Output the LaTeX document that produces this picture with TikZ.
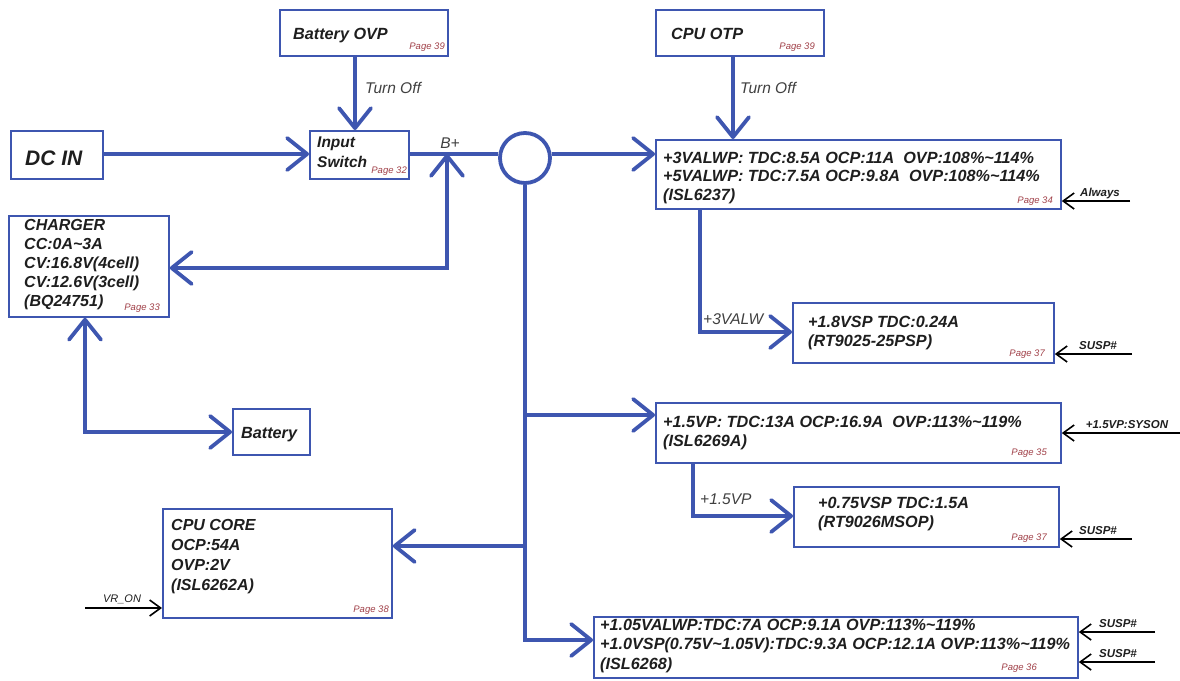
\documentclass[tikz,border=0pt]{standalone}
\usepackage{fontspec}
\setmainfont{Liberation Sans}
\usetikzlibrary{arrows.meta,calc}
\definecolor{lblue}{RGB}{62,86,176}
\definecolor{pgred}{RGB}{160,64,72}
\definecolor{txt}{RGB}{30,30,30}
\tikzset{
 box/.style={draw=lblue, line width=1.8pt, rectangle, inner sep=0pt, anchor=north west},
 main/.style={font=\fontsize{16.2}{18.5}\selectfont\bfseries\itshape, text=txt, align=left, anchor=north west, inner sep=0pt},
 pg/.style={font=\fontsize{9.5}{10}\selectfont\itshape, text=pgred, anchor=base east, inner sep=0pt},
 wire/.style={draw=lblue, line width=3.8pt},
 arr/.style={wire, -{Straight Barb[length=20pt,width=32pt,round]}},
 darr/.style={wire, {Straight Barb[length=20pt,width=32pt,round]}-{Straight Barb[length=20pt,width=32pt,round]}},
 sig/.style={draw=black, line width=1.6pt, -{Straight Barb[length=11pt,width=16pt]}},
 siglbl/.style={font=\fontsize{11.5}{12}\selectfont\bfseries\itshape, text=txt, anchor=base, inner sep=0pt},
 wlbl/.style={font=\fontsize{15.5}{16}\selectfont\itshape, text=txt!85, anchor=base west, inner sep=0pt}
}
\begin{document}
\begin{tikzpicture}[x=1pt,y=-1pt]
\useasboundingbox (0,0) rectangle (1180,680);
% boxes
\node[box, minimum width=168pt, minimum height=46pt] (bovp) at (279,9) {};
\node[box, minimum width=168pt, minimum height=46pt] (cotp) at (655,9) {};
\node[box, minimum width=92pt, minimum height=48pt] (dcin) at (10,130) {};
\node[box, minimum width=99pt, minimum height=48pt] (insw) at (309,130) {};
\node[box, minimum width=160pt, minimum height=101pt] (chg) at (8,215) {};
\node[box, minimum width=77pt, minimum height=46pt] (bat) at (232,408) {};
\node[box, minimum width=229pt, minimum height=109pt] (cpu) at (162,508) {};
\node[box, minimum width=405pt, minimum height=69pt] (v3) at (655,139) {};
\node[box, minimum width=261pt, minimum height=60pt] (v18) at (792,302) {};
\node[box, minimum width=405pt, minimum height=60pt] (v15) at (655,402) {};
\node[box, minimum width=265pt, minimum height=60pt] (v075) at (793,486) {};
\node[box, minimum width=484pt, minimum height=61pt] (v105) at (593,616) {};
\node[draw=lblue, line width=3.8pt, circle, minimum size=50pt, inner sep=0pt] (cir) at (525,158) {};
% texts
\node[main, anchor=base west] (tbovp) at (293,39) {Battery OVP};
\node[pg] (pbovp) at (445,49) {Page 39};
\node[main, anchor=base west] (tcotp) at (671,39) {CPU OTP};
\node[pg] (pcotp) at (815,49) {Page 39};
\node[main, font=\fontsize{21}{24}\selectfont\bfseries\itshape, anchor=base west] (tdcin) at (25,165) {DC IN};
\node[main, font=\fontsize{15.5}{20}\selectfont\bfseries\itshape] (tinsw) at (317,136.5) {Input\\Switch};
\node[pg] (pinsw) at (407,173) {Page 32};
\node[main, font=\fontsize{16}{18.8}\selectfont\bfseries\itshape] (tchg) at (24,219.5) {CHARGER\\CC:0A\textasciitilde 3A\\CV:16.8V(4cell)\\CV:12.6V(3cell)\\(BQ24751)};
\node[pg] (pchg) at (160,310) {Page 33};
\node[main, anchor=base west] (tbat) at (241,438) {Battery};
\node[main, font=\fontsize{16}{20}\selectfont\bfseries\itshape] (tcpu) at (171,519.5) {CPU CORE\\OCP:54A\\OVP:2V\\(ISL6262A)};
\node[pg] (pcpu) at (389,612) {Page 38};
\node[main] (tv3) at (663,151.5) {+3VALWP: TDC:8.5A OCP:11A\ \ OVP:108\%\textasciitilde 114\%\\+5VALWP: TDC:7.5A OCP:9.8A\ \ OVP:108\%\textasciitilde 114\%\\(ISL6237)};
\node[pg] (pv3) at (1053,203) {Page 34};
\node[main] (tv18) at (808,316) {+1.8VSP TDC:0.24A\\(RT9025-25PSP)};
\node[pg] (pv18) at (1045,356) {Page 37};
\node[main, font=\fontsize{16.2}{19}\selectfont\bfseries\itshape] (tv15) at (663,415.5) {+1.5VP: TDC:13A OCP:16.9A\ \ OVP:113\%\textasciitilde 119\%\\(ISL6269A)};
\node[pg] (pv15) at (1047,455) {Page 35};
\node[main, font=\fontsize{16.2}{19}\selectfont\bfseries\itshape] (tv075) at (818,496.5) {+0.75VSP TDC:1.5A\\(RT9026MSOP)};
\node[pg] (pv075) at (1047,540) {Page 37};
\node[main, font=\fontsize{16.2}{19.5}\selectfont\bfseries\itshape] (tv105) at (600,618.5) {+1.05VALWP:TDC:7A OCP:9.1A OVP:113\%\textasciitilde 119\%\\+1.0VSP(0.75V\textasciitilde 1.05V):TDC:9.3A OCP:12.1A OVP:113\%\textasciitilde 119\%\\(ISL6268)};
\node[pg] (pv105) at (1037,670) {Page 36};
% wire labels
\node[wlbl] (lto1) at (365,93) {Turn Off};
\node[wlbl] (lto2) at (740,93) {Turn Off};
\node[wlbl, anchor=base] (lbp) at (450,148) {B+};
\node[wlbl] (l3v) at (703,324) {+3VALW};
\node[wlbl] (l15) at (700,504) {+1.5VP};
% coordinates
\coordinate (bp) at (447,154);
\coordinate (cj) at (447,268);
\coordinate (bj) at (85,432);
\coordinate (t1) at (525,415);
\coordinate (t2) at (525,546);
\coordinate (t3) at (525,640);
\coordinate (a1) at (700,332);
\coordinate (a2) at (693,516);
% connectors
\draw[arr] (dcin.east |- 0,154) -- (insw.west |- 0,154);
\draw[arr] (355,55) coordinate (bo) -- (bo |- insw.north);
\draw[arr] (733,55) coordinate (co) -- (co |- v3.north);
\draw[wire] (insw.east |- 0,154) -- (cir.west |- 0,154);
\draw[arr] (cir.east |- 0,154) -- (v3.west |- 0,154);
\draw[darr] (chg.east |- cj) -- (cj) -- (bp);
\draw[darr] (chg.south -| bj) -- (bj) -- (bat.west |- bj);
\draw[arr] (cir.south) -- (t3) -- (v105.west |- t3);
\draw[arr] (t1) -- (v15.west |- t1);
\draw[arr] (t2) -- (cpu.east |- t2);
\draw[arr] (a1 |- v3.south) -- (a1) -- (v18.west |- a1);
\draw[arr] (a2 |- v15.south) -- (a2) -- (v075.west |- a2);
% signal inputs
\coordinate (s1) at (1130,201);
\draw[sig] (s1) -- (v3.east |- s1);
\node[siglbl] (ls1) at (1100,196) {Always};
\coordinate (s2) at (1132,354);
\draw[sig] (s2) -- (v18.east |- s2);
\node[siglbl] (ls2) at (1098,349) {SUSP\#};
\coordinate (s3) at (1180,433);
\draw[sig] (s3) -- (v15.east |- s3);
\node[siglbl] (ls3) at (1127,428) {+1.5VP:SYSON};
\coordinate (s4) at (1132,539);
\draw[sig] (s4) -- (v075.east |- s4);
\node[siglbl] (ls4) at (1098,534) {SUSP\#};
\coordinate (s5) at (1155,632);
\draw[sig] (s5) -- (v105.east |- s5);
\node[siglbl] (ls5) at (1118,627) {SUSP\#};
\coordinate (s6) at (1155,662);
\draw[sig] (s6) -- (v105.east |- s6);
\node[siglbl] (ls6) at (1118,657) {SUSP\#};
\coordinate (s7) at (85,608);
\draw[sig] (s7) -- (cpu.west |- s7);
\node[siglbl, font=\fontsize{11}{12}\selectfont\itshape] (ls7) at (122,602) {VR\_ON};
\end{tikzpicture}
\end{document}
